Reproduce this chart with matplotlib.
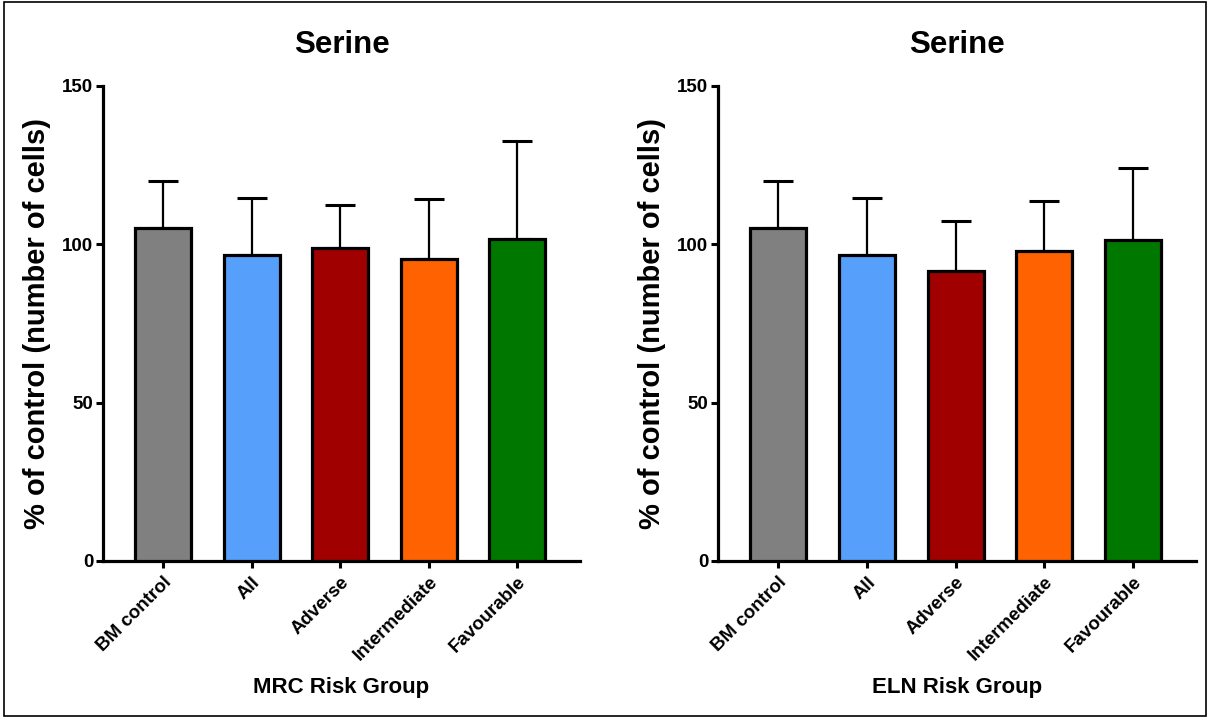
import numpy as np
import matplotlib
matplotlib.use('agg')
import matplotlib.pyplot as plt
from matplotlib.patches import Rectangle

plt.rcParams['font.family'] = ['Liberation Sans', 'DejaVu Sans']
plt.rcParams['font.weight'] = 'bold'

# bar data: mean % of control and upper SD for each risk group
groups = ["BM control", "All", "Adverse", "Intermediate", "Favourable"]
colors = ["#808080", "#56A0FC", "#A00000", "#FF6200", "#007800"]

mrc_mean = [105.2, 96.6, 98.9, 95.4, 101.8]
mrc_sd = [14.7, 17.9, 13.4, 18.8, 30.9]

eln_mean = [105.2, 96.6, 91.5, 97.8, 101.3]
eln_sd = [14.7, 17.9, 15.8, 16.0, 22.9]

yticks = [0, 50, 100, 150]


def draw_panel(ax, means, sds, xlabel):
    x = np.arange(len(groups))
    ax.bar(x, means, width=0.63, color=colors, edgecolor='black',
           linewidth=2.3, zorder=3)
    ax.errorbar(x, means, yerr=[np.zeros(len(sds)), sds], fmt='none',
                ecolor='black', elinewidth=1.6, capsize=10.5, capthick=2.2,
                zorder=2)
    ax.set_xlim(-0.68, 4.71)
    ax.set_ylim(0, 150)
    ax.set_yticks(yticks)
    ax.set_xticks(x)
    ax.set_xticklabels(groups, rotation=45, ha='right', rotation_mode='anchor',
                       fontsize=13.5, fontweight='bold')
    for lbl in ax.get_yticklabels():
        lbl.set_fontsize(13.5)
        lbl.set_fontweight('bold')
    ax.spines['top'].set_visible(False)
    ax.spines['right'].set_visible(False)
    ax.spines['left'].set_linewidth(2.3)
    ax.spines['bottom'].set_linewidth(2.3)
    ax.tick_params(axis='y', length=5, width=2.2, pad=2)
    ax.tick_params(axis='x', length=5, width=2.2, pad=4)
    ax.set_title("Serine", fontsize=22.5, fontweight='bold', pad=24)
    ax.set_ylabel("% of control (number of cells)", fontsize=21,
                  fontweight='bold', labelpad=8)
    ax.set_xlabel(xlabel, fontsize=16, fontweight='bold')
    ax.xaxis.set_label_coords(0.5, -0.245)


fig = plt.figure(figsize=(12.08, 7.17), dpi=100)
ax1 = fig.add_axes([0.0853, 0.2176, 0.3949, 0.6625])
ax2 = fig.add_axes([0.5944, 0.2176, 0.3957, 0.6625])

draw_panel(ax1, mrc_mean, mrc_sd, "MRC Risk Group")
draw_panel(ax2, eln_mean, eln_sd, "ELN Risk Group")

# thin frame round the whole figure
fig.patches.append(Rectangle((0.003, 0.002), 0.995, 0.995, transform=fig.transFigure,
                             fill=False, edgecolor='black', linewidth=1.2))

fig.savefig('out.png', dpi=100)
